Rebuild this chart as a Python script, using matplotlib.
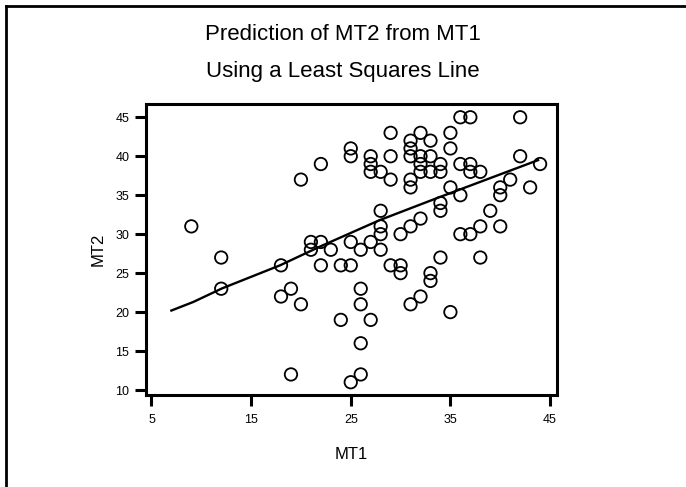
import numpy as np
import matplotlib.pyplot as plt
from matplotlib.lines import Line2D

plt.rcParams['font.family'] = ['Liberation Sans', 'DejaVu Sans']

# scores
mt1 = [9, 12, 12, 18, 18, 19, 19, 20, 20, 21, 21, 22, 22, 22, 23, 24, 24,
       25, 25, 25, 25, 25, 26, 26, 26, 26, 26, 27, 27, 27, 27, 27,
       28, 28, 28, 28, 28, 29, 29, 29, 29, 30, 30, 30,
       31, 31, 31, 31, 31, 31, 31, 32, 32, 32, 32, 32, 32,
       33, 33, 33, 33, 33, 34, 34, 34, 34, 34, 35, 35, 35, 35,
       36, 36, 36, 36, 37, 37, 37, 37, 38, 38, 38, 39, 40, 40, 40,
       41, 42, 42, 43, 44]
mt2 = [31, 27, 23, 26, 22, 23, 12, 21, 37, 29, 28, 29, 39, 26, 28, 26, 19,
       41, 40, 29, 26, 11, 28, 23, 21, 16, 12, 40, 39, 38, 29, 19,
       38, 33, 31, 30, 28, 43, 40, 37, 26, 30, 26, 25,
       42, 41, 40, 37, 36, 31, 21, 43, 40, 39, 38, 32, 22,
       42, 40, 38, 25, 24, 39, 38, 34, 33, 27, 43, 41, 36, 20,
       45, 39, 35, 30, 45, 39, 38, 30, 38, 31, 27, 33, 36, 35, 31,
       37, 45, 40, 36, 39]

# fitted line as drawn in the picture
line_x = [7.0, 9.2, 12.1, 17.9, 21.9, 27.9, 33.6, 43.8]
line_y = [20.2, 21.3, 23.05, 26.0, 28.4, 31.8, 34.6, 39.5]

fig = plt.figure(figsize=(6.86, 4.87), dpi=100, facecolor='white')
ax = fig.add_axes([0.2128, 0.1889, 0.5992, 0.5975])

ax.scatter(mt1, mt2, s=80, facecolors='none', edgecolors='black', linewidths=1.3, zorder=3)
ax.plot(line_x, line_y, color='black', linewidth=1.7, zorder=2)

ax.set_xlim(4.45, 45.7)
ax.set_ylim(9.36, 46.7)
ax.set_xticks([5, 15, 25, 35, 45])
ax.set_yticks([10, 15, 20, 25, 30, 35, 40, 45])

for s in ax.spines.values():
    s.set_linewidth(2.2)
ax.tick_params(direction='out', length=8, width=2.2, labelsize=9, colors='black')
ax.tick_params(axis='x', pad=6)
ax.tick_params(axis='y', pad=4)

ax.set_xlabel('MT1', fontsize=12, labelpad=15)
ax.set_ylabel('MT2', fontsize=12, labelpad=7)

fig.text(0.5, 1 - 35 / 487, 'Prediction of MT2 from MT1', ha='center', va='center', fontsize=16)
fig.text(0.5, 1 - 72 / 487, 'Using a Least Squares Line', ha='center', va='center', fontsize=16)

# frame lines on the left and top edge
fig.add_artist(Line2D([6 / 686, 6 / 686], [0, 1 - 6 / 487], color='black', linewidth=2))
fig.add_artist(Line2D([6 / 686, 1], [1 - 6 / 487, 1 - 6 / 487], color='black', linewidth=2))

fig.savefig('out.png', dpi=100)
